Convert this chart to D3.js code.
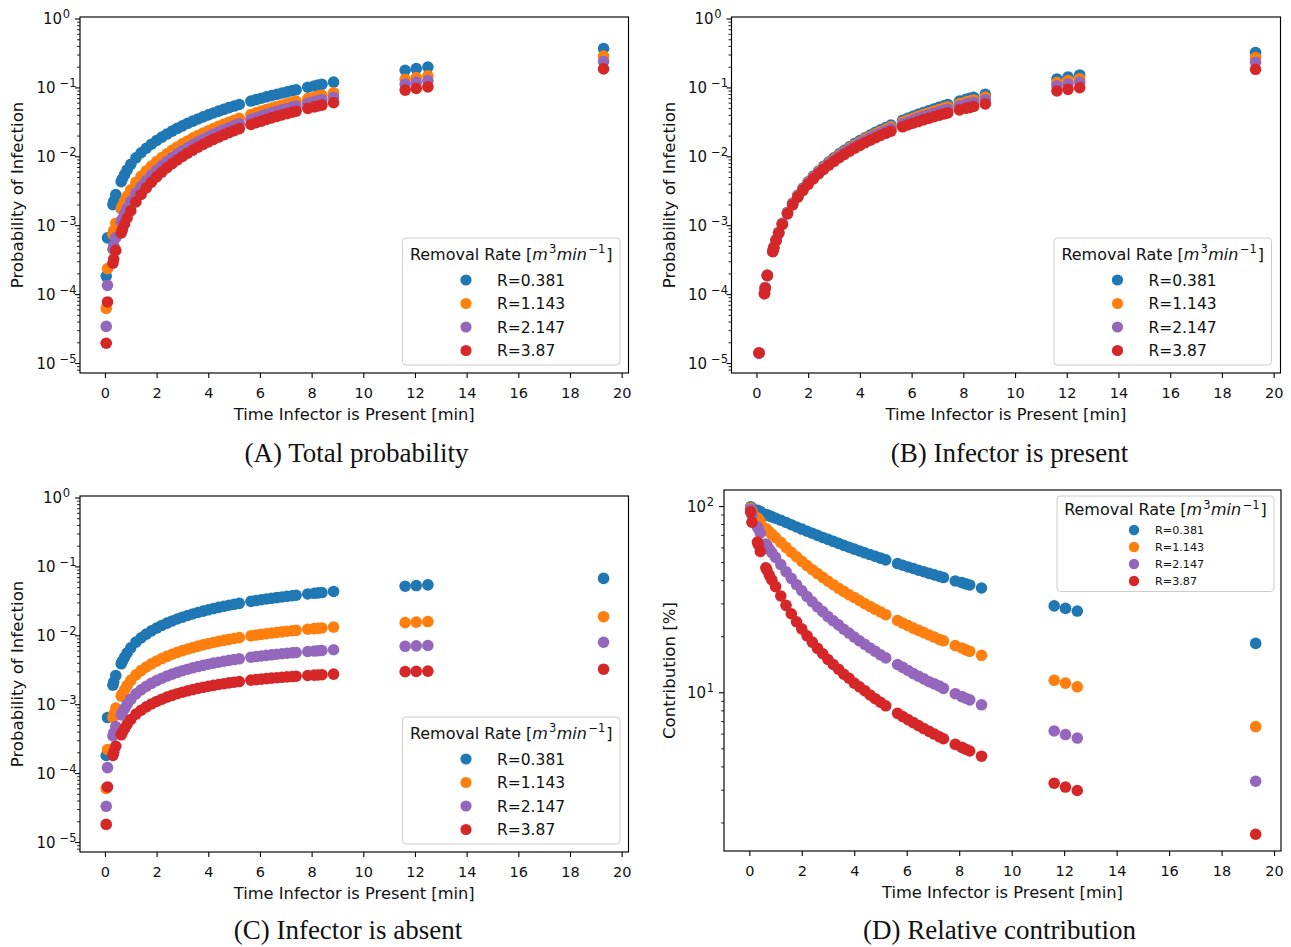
<!DOCTYPE html>
<html><head><meta charset="utf-8">
<script src="https://cdn.jsdelivr.net/npm/d3@7"></script>
<style>
body{margin:0;background:#fff}
svg{display:block}
text{font-family:"DejaVu Sans",sans-serif;fill:#111}
.cap{font-family:"Liberation Serif",serif}
</style>
</head><body>
<svg id="c" width="1291" height="947"></svg>
<script>
// ---------------- DATA ----------------
const times = [0.05,0.1,0.31,0.34,0.42,0.63,0.67,0.76,0.86,1.0,
 1.2,1.4,1.6,1.8,2.0,2.2,2.4,2.6,2.8,3.0,
 3.2,3.4,3.6,3.8,4.0,4.2,4.4,4.6,4.8,5.0,
 5.2,5.65,5.85,6.05,6.25,6.45,6.65,6.85,7.05,7.25,
 7.4,7.85,8.1,8.25,8.4,8.85,11.62,12.05,12.5,19.3];

const seriesLabels = ["R=0.381","R=1.143","R=2.147","R=3.87"];
const seriesColors = ["#1f77b4","#ff7f0e","#9467bd","#d62728"];

// (A) Total probability
const totalR0381 = [1.83e-4,6.54e-4,1.99e-3,2.22e-3,2.79e-3,4.29e-3,4.66e-3,5.41e-3,6.34e-3,7.66e-3,
 9.49e-3,0.01126,0.01310,0.01500,0.01696,0.01898,0.02106,0.02321,0.02542,0.02769,
 0.03002,0.03242,0.03487,0.03738,0.03995,0.04258,0.04527,0.04802,0.05083,0.05369,
 0.05661,0.06339,0.06649,0.06965,0.07286,0.07613,0.07946,0.08282,0.08625,0.08973,
 0.09238,0.1005,0.1051,0.1079,0.1107,0.1193,0.1774,0.1871,0.1973,0.3673];
const totalR1143 = [6.2e-5,2.34e-4,7.44e-4,8.36e-4,1.069e-3,1.726e-3,1.887e-3,2.231e-3,2.653e-3,3.272e-3,
 4.184e-3,5.124e-3,6.137e-3,7.220e-3,8.372e-3,9.594e-3,0.01088,0.01224,0.01367,0.01516,
 0.01672,0.01834,0.02003,0.02178,0.02347,0.02533,0.02725,0.02923,0.03126,0.03335,
 0.03550,0.04054,0.04287,0.04525,0.04768,0.05017,0.05270,0.05529,0.05792,0.06060,
 0.06265,0.06893,0.07252,0.07470,0.07691,0.08369,0.1313,0.1391,0.1474,0.2849];
const totalR2147 = [3.4e-5,1.34e-4,4.48e-4,5.06e-4,6.60e-4,1.115e-3,1.226e-3,1.469e-3,1.770e-3,2.219e-3,
 2.907e-3,3.643e-3,4.450e-3,5.326e-3,6.272e-3,7.285e-3,8.364e-3,9.511e-3,0.01072,0.01199,
 0.01330,0.01469,0.01614,0.01765,0.01921,0.02084,0.02252,0.02425,0.02604,0.02787,
 0.02976,0.03420,0.03625,0.03835,0.04049,0.04268,0.04491,0.04718,0.04950,0.05186,
 0.05366,0.05917,0.06232,0.06424,0.06616,0.07210,0.1117,0.1183,0.1253,0.2383];
const totalR387 = [1.94e-5,7.7e-5,2.82e-4,3.22e-4,4.31e-4,7.73e-4,8.55e-4,1.041e-3,1.273e-3,1.625e-3,
 2.180e-3,2.791e-3,3.471e-3,4.213e-3,5.022e-3,5.890e-3,6.820e-3,7.808e-3,8.841e-3,9.941e-3,
 0.01109,0.01230,0.01354,0.01485,0.01620,0.01759,0.01904,0.02052,0.02205,0.02361,
 0.02522,0.02897,0.03070,0.03246,0.03426,0.03609,0.03794,0.03983,0.04174,0.04369,
 0.04517,0.04968,0.05225,0.05380,0.05537,0.06014,0.09143,0.09650,0.1019,0.1857];

// (B) Infector is present
const presentR0381 = [1.5e-6,1.4e-5,1.03e-4,1.24e-4,1.89e-4,4.25e-4,4.80e-4,6.17e-4,7.91e-4,1.068e-3,
 1.537e-3,2.091e-3,2.730e-3,3.453e-3,4.260e-3,5.150e-3,6.124e-3,7.182e-3,8.323e-3,9.546e-3,
 0.01085,0.01224,0.01371,0.01526,0.01689,0.01859,0.02038,0.02225,0.02420,0.02622,
 0.02832,0.03333,0.03568,0.03810,0.04060,0.04317,0.04582,0.04853,0.05132,0.05418,
 0.05637,0.06317,0.06709,0.06950,0.07194,0.07948,0.1326,0.1418,0.1516,0.3218];
const presentR1143 = [1.5e-6,1.4e-5,1.023e-4,1.230e-4,1.877e-4,4.209e-4,4.759e-4,6.116e-4,7.821e-4,1.056e-3,
 1.517e-3,2.056e-3,2.679e-3,3.381e-3,4.161e-3,5.020e-3,5.957e-3,6.971e-3,8.061e-3,9.225e-3,
 0.01046,0.01177,0.01316,0.01462,0.01614,0.01774,0.01941,0.02114,0.02294,0.02481,
 0.02674,0.03133,0.03347,0.03567,0.03793,0.04025,0.04263,0.04507,0.04756,0.05012,
 0.05207,0.05809,0.06155,0.06366,0.06581,0.07241,0.1178,0.1255,0.1337,0.2713];
const presentR2147 = [1.5e-6,1.4e-5,1.020e-4,1.225e-4,1.867e-4,4.180e-4,4.724e-4,6.065e-4,7.748e-4,1.044e-3,
 1.496e-3,2.025e-3,2.632e-3,3.314e-3,4.071e-3,4.901e-3,5.803e-3,6.777e-3,7.819e-3,8.931e-3,
 0.01011,0.01136,0.01266,0.01403,0.01547,0.01696,0.01852,0.02014,0.02181,0.02353,
 0.02532,0.02953,0.03148,0.03350,0.03555,0.03766,0.03981,0.04201,0.04425,0.04654,
 0.04829,0.05367,0.05674,0.05862,0.06051,0.06633,0.1055,0.1121,0.1190,0.2322];
const presentR387 = [1.5e-6,1.4e-5,1.014e-4,1.218e-4,1.853e-4,4.131e-4,4.665e-4,5.978e-4,7.623e-4,1.025e-3,
 1.463e-3,1.973e-3,2.556e-3,3.205e-3,3.925e-3,4.707e-3,5.554e-3,6.463e-3,7.430e-3,8.459e-3,
 9.541e-3,0.01068,0.01186,0.01311,0.01441,0.01575,0.01714,0.01857,0.02005,0.02157,
 0.02314,0.02680,0.02849,0.03022,0.03198,0.03378,0.03560,0.03746,0.03935,0.04127,
 0.04273,0.04720,0.04974,0.05128,0.05283,0.05757,0.08872,0.09378,0.09914,0.1831];

// (C) Infector is absent
const absentR0381 = [1.8e-4,6.4e-4,1.89e-3,2.10e-3,2.60e-3,3.86e-3,4.18e-3,4.80e-3,5.55e-3,6.59e-3,
 7.96e-3,9.19e-3,0.01040,0.01158,0.01275,0.01390,0.01503,0.01615,0.01724,0.01832,
 0.01938,0.02043,0.02145,0.02246,0.02346,0.02444,0.02540,0.02635,0.02729,0.02821,
 0.02911,0.03109,0.03195,0.03280,0.03363,0.03445,0.03525,0.03604,0.03682,0.03759,
 0.03816,0.03982,0.04072,0.04125,0.04178,0.04331,0.05164,0.05277,0.05391,0.06703];
const absentR1143 = [6.0e-5,2.2e-4,6.42e-4,7.13e-4,8.81e-4,1.305e-3,1.411e-3,1.619e-3,1.871e-3,2.216e-3,
 2.671e-3,3.074e-3,3.467e-3,3.852e-3,4.229e-3,4.597e-3,4.957e-3,5.310e-3,5.654e-3,5.993e-3,
 6.323e-3,6.646e-3,6.962e-3,7.271e-3,7.573e-3,7.869e-3,8.158e-3,8.440e-3,8.718e-3,8.988e-3,
 9.253e-3,9.829e-3,0.01008,0.01032,0.01055,0.01078,0.01101,0.01123,0.01145,0.01166,
 0.01181,0.01226,0.01251,0.01265,0.01279,0.01319,0.01529,0.01556,0.01583,0.01864];
const absentR2147 = [3.3e-5,1.2e-4,3.46e-4,3.83e-4,4.73e-4,6.97e-4,7.54e-4,8.63e-4,9.95e-4,1.175e-3,
 1.411e-3,1.618e-3,1.818e-3,2.012e-3,2.201e-3,2.384e-3,2.561e-3,2.734e-3,2.901e-3,3.063e-3,
 3.221e-3,3.374e-3,3.522e-3,3.666e-3,3.806e-3,3.942e-3,4.073e-3,4.201e-3,4.325e-3,4.445e-3,
 4.562e-3,4.812e-3,4.918e-3,5.021e-3,5.120e-3,5.217e-3,5.311e-3,5.402e-3,5.491e-3,5.576e-3,
 5.639e-3,5.818e-3,5.913e-3,5.969e-3,6.022e-3,6.177e-3,6.931e-3,7.022e-3,7.112e-3,7.932e-3];
const absentR387 = [1.8e-5,6.3e-5,1.81e-4,2.00e-4,2.46e-4,3.60e-4,3.89e-4,4.44e-4,5.10e-4,6.00e-4,
 7.17e-4,8.18e-4,9.15e-4,1.008e-3,1.097e-3,1.183e-3,1.266e-3,1.345e-3,1.422e-3,1.495e-3,
 1.565e-3,1.633e-3,1.698e-3,1.760e-3,1.820e-3,1.878e-3,1.933e-3,1.986e-3,2.037e-3,2.086e-3,
 2.134e-3,2.233e-3,2.275e-3,2.314e-3,2.353e-3,2.389e-3,2.425e-3,2.459e-3,2.491e-3,2.522e-3,
 2.545e-3,2.609e-3,2.642e-3,2.661e-3,2.680e-3,2.732e-3,2.969e-3,2.996e-3,3.021e-3,3.221e-3];

// (D) Relative contribution [%]
const contribR0381 = [99.0,97.9,94.8,94.4,93.2,90.1,89.7,88.6,87.5,86.0,
 83.9,81.6,79.4,77.2,75.2,73.2,71.4,69.6,67.8,66.2,
 64.6,63.0,61.5,60.1,58.7,57.4,56.1,54.9,53.7,52.5,
 51.4,49.1,48.1,47.1,46.2,45.2,44.4,43.5,42.7,41.9,
 41.3,39.6,38.8,38.2,37.7,36.3,29.1,28.2,27.3,18.3];
const contribR1143 = [97.5,94.0,86.3,85.3,82.4,75.6,74.8,72.6,70.5,67.7,
 63.8,60.0,56.5,53.4,50.5,47.9,45.5,43.4,41.4,39.5,
 37.8,36.2,34.8,33.4,32.3,31.1,29.9,28.9,27.9,27.0,
 26.1,24.3,23.5,22.8,22.1,21.5,20.9,20.3,19.8,19.2,
 18.9,17.8,17.3,16.9,16.6,15.8,11.6,11.2,10.7,6.54];
const contribR2147 = [96.0,89.6,77.2,75.8,71.7,62.5,61.5,58.7,56.2,53.0,
 48.5,44.4,40.9,37.8,35.1,32.7,30.6,28.7,27.1,25.5,
 24.2,23.0,21.8,20.8,19.8,18.9,18.1,17.3,16.6,15.9,
 15.3,14.1,13.6,13.1,12.6,12.2,11.8,11.4,11.1,10.8,
 10.5,9.83,9.49,9.29,9.10,8.57,6.20,5.93,5.68,3.33];
const contribR387 = [93.0,81.8,64.0,62.2,57.0,46.6,45.4,42.6,40.1,36.9,
 32.9,29.3,26.4,23.9,21.9,20.1,18.6,17.2,16.1,15.0,
 14.1,13.3,12.5,11.9,11.2,10.7,10.2,9.68,9.24,8.84,
 8.46,7.71,7.41,7.13,6.87,6.62,6.39,6.17,5.97,5.77,
 5.63,5.25,5.06,4.95,4.84,4.54,3.25,3.10,2.97,1.73];

const xTicks = [0,2,4,6,8,10,12,14,16,18,20];
const probTicks = [1e-5,1e-4,1e-3,1e-2,1e-1,1];
const contribTicks = [10,100];
const xLabel = "Time Infector is Present [min]";
const probLabel = "Probability of Infection";
const contribLabel = "Contribution [%]";
const captions = ["(A) Total probability","(B) Infector is present","(C) Infector is absent","(D) Relative contribution"];

// ---------------- LAYOUT ----------------
const svg = d3.select("#c");
svg.append("rect").attr("width",1291).attr("height",947).attr("fill","#fff");
const xDomain = [-0.965, 20.265];
const probDomain = [Math.pow(10,-5.145), Math.pow(10,0.022)];
const contribDomain = [Math.pow(10,0.148), Math.pow(10,2.086)];

const panels = [
 {id:"A", left:80, right:628.5, top:17, bottom:373, dom:probDomain, ticks:probTicks, ylab:probLabel, ylabX:23,
  series:[totalR0381,totalR1143,totalR2147,totalR387], cap:captions[0], capX:356.5, capY:462},
 {id:"B", left:731.5, right:1280.5, top:17, bottom:373, dom:probDomain, ticks:probTicks, ylab:probLabel, ylabX:674.5,
  series:[presentR0381,presentR1143,presentR2147,presentR387], cap:captions[1], capX:1009.5, capY:462},
 {id:"C", left:80, right:628.5, top:496, bottom:852, dom:probDomain, ticks:probTicks, ylab:probLabel, ylabX:23,
  series:[absentR0381,absentR1143,absentR2147,absentR387], cap:captions[2], capX:348, capY:939},
 {id:"D", left:724, right:1281, top:490, bottom:851, dom:contribDomain, ticks:contribTicks, ylab:contribLabel, ylabX:675,
  series:[contribR0381,contribR1143,contribR2147,contribR387], cap:captions[3], capX:999.5, capY:939}
];

const legends = [
 {x:402.5, y:238, w:217.5, h:127, titleY:259.5, mx:466, tx:497, rows:[280,303.5,327,350.5], fs:15.5, r:5.6},
 {x:1054, y:238, w:217.5, h:127, titleY:259.5, mx:1117.5, tx:1148.5, rows:[280,303.5,327,350.5], fs:15.5, r:5.6},
 {x:402.5, y:717, w:217.5, h:127, titleY:738.5, mx:466, tx:497, rows:[759,782.5,806,829.5], fs:15.5, r:5.6},
 {x:1057, y:496, w:217, h:95.5, titleY:515, mx:1134, tx:1155, rows:[530,547,564,581], fs:11.2, r:5.2}
];

const R = 5.8;

function minorTicks(dom){
  const out=[];
  const lo=Math.floor(Math.log10(dom[0])), hi=Math.ceil(Math.log10(dom[1]));
  for(let e=lo;e<=hi;e++) for(let k=2;k<=9;k++){const v=k*Math.pow(10,e); if(v>=dom[0]&&v<=dom[1]) out.push(v);}
  return out;
}

panels.forEach((p,pi)=>{
  const x = d3.scaleLinear().domain(xDomain).range([p.left,p.right]);
  const y = d3.scaleLog().domain(p.dom).range([p.bottom,p.top]);
  const g = svg.append("g");
  const cid = "clip"+p.id;
  svg.append("clipPath").attr("id",cid).append("rect")
    .attr("x",p.left).attr("y",p.top).attr("width",p.right-p.left).attr("height",p.bottom-p.top);
  const pts = g.append("g").attr("clip-path",`url(#${cid})`);
  p.series.forEach((vals,i)=>{
    const data = times.map((t,j)=>({t:t,v:vals[j]})).filter(d=>d.v>0);
    pts.append("g").selectAll("circle").data(data).join("circle")
      .attr("cx",d=>x(d.t)).attr("cy",d=>y(d.v)).attr("r",R).attr("fill",seriesColors[i]);
  });
  // x axis
  const xa = g.append("g").attr("transform",`translate(0,${p.bottom})`)
    .call(d3.axisBottom(x).tickValues(xTicks).tickSize(5).tickSizeOuter(0).tickFormat(d3.format("d")));
  xa.select(".domain").remove();
  xa.selectAll("line").attr("stroke","#000").attr("stroke-width",1.1);
  xa.selectAll("text").attr("y",24.5).attr("dy",null).style("font-size","14.5px").style("fill","#111");
  // y axis major
  const ya = g.append("g").attr("transform",`translate(${p.left},0)`)
    .call(d3.axisLeft(y).tickValues(p.ticks).tickSize(5).tickSizeOuter(0).tickFormat(()=>""));
  ya.select(".domain").remove();
  ya.selectAll("line").attr("stroke","#000").attr("stroke-width",1.1);
  const ym = g.append("g").attr("transform",`translate(${p.left},0)`)
    .call(d3.axisLeft(y).tickValues(minorTicks(p.dom)).tickSize(3).tickSizeOuter(0).tickFormat(()=>""));
  ym.select(".domain").remove();
  ym.selectAll("line").attr("stroke","#000").attr("stroke-width",0.85);
  // y labels with superscripts
  p.ticks.forEach(v=>{
    const e = Math.round(Math.log10(v));
    const t = g.append("text").attr("x",p.left-(e<0?3.5:10)).attr("y",y(v)+5.5)
      .attr("text-anchor","end").style("font-size","15px");
    t.append("tspan").text("10");
    t.append("tspan").attr("dy",-6).attr("dx",e<0?4:0.5).style("font-size","11.5px")
      .text(e<0?"\u2212"+(-e):String(e));
  });
  // frame
  g.append("rect").attr("x",p.left).attr("y",p.top).attr("width",p.right-p.left).attr("height",p.bottom-p.top)
    .attr("fill","none").attr("stroke","#000").attr("stroke-width",1.15);
  // axis labels
  g.append("text").attr("x",(p.left+p.right)/2).attr("y",p.bottom+47).attr("text-anchor","middle")
    .style("font-size","16.3px").text(xLabel);
  g.append("text").attr("transform",`translate(${p.ylabX},${(p.top+p.bottom)/2}) rotate(-90)`)
    .attr("text-anchor","middle").style("font-size","16.6px").text(p.ylab);
  // caption
  g.append("text").attr("class","cap").attr("x",p.capX).attr("y",p.capY).attr("text-anchor","middle")
    .style("font-size","27px").text(p.cap);

  // legend
  const L = legends[pi];
  const lg = svg.append("g");
  lg.append("rect").attr("x",L.x).attr("y",L.y).attr("width",L.w).attr("height",L.h).attr("rx",3.5)
    .attr("fill","#fff").attr("fill-opacity",0.8).attr("stroke","#cccccc").attr("stroke-width",1);
  const tt = lg.append("text").attr("x",L.x+L.w/2).attr("y",L.titleY).attr("text-anchor","middle").style("font-size","16px");
  tt.append("tspan").text("Removal Rate [");
  tt.append("tspan").style("font-style","italic").text("m");
  tt.append("tspan").attr("dy",-6.5).attr("dx",1).style("font-size","11.5px").text("3");
  tt.append("tspan").attr("dy",6.5).attr("dx",0.5).style("font-style","italic").text("min");
  tt.append("tspan").attr("dy",-6.5).attr("dx",1.5).style("font-size","11.5px").text("\u22121");
  tt.append("tspan").attr("dy",6.5).attr("dx",1).text("]");
  seriesLabels.forEach((s,i)=>{
    lg.append("circle").attr("cx",L.mx).attr("cy",L.rows[i]).attr("r",L.r).attr("fill",seriesColors[i]);
    lg.append("text").attr("x",L.tx).attr("y",L.rows[i]+L.fs*0.37).style("font-size",L.fs+"px").text(s);
  });
});
</script>
</body></html>
